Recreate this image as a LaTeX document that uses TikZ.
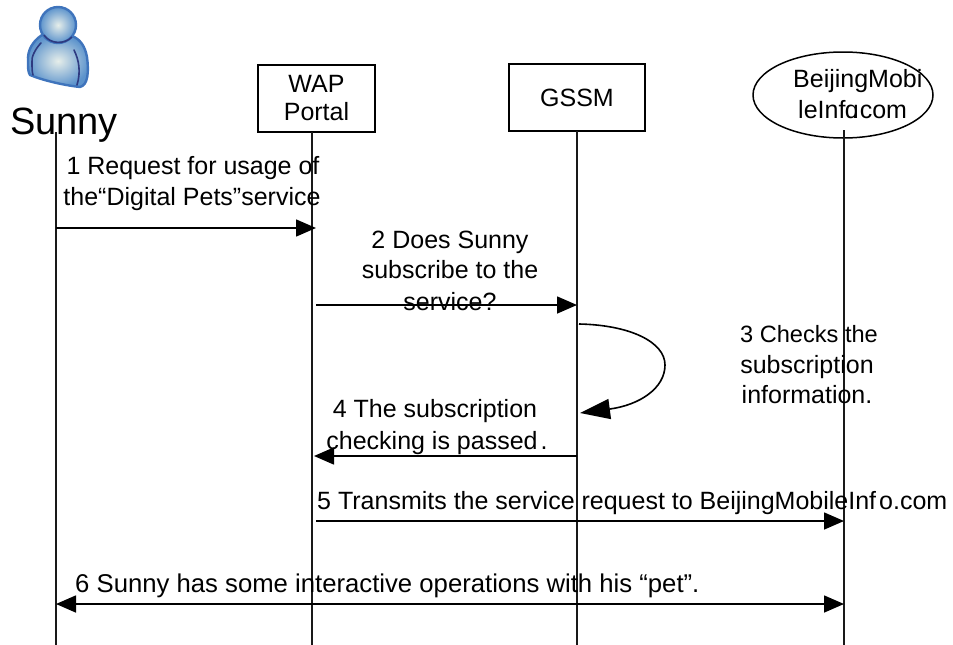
\documentclass[tikz,border=0pt]{standalone}
\usepackage{fontspec}
\setmainfont{Liberation Sans}
\usetikzlibrary{arrows.meta,shapes.geometric}
\tikzset{
  x=1pt,y=-1pt,
  life/.style={line width=1.8pt,black!90},
  msg/.style={line width=1.6pt,-{Triangle[length=20pt,width=17pt]}},
  msgboth/.style={line width=1.6pt,{Triangle[length=20pt,width=17pt]}-{Triangle[length=20pt,width=17pt]}},
  actor/.style={draw,line width=1.8pt,fill=white,minimum height=67pt,align=center,font=\fontsize{25}{28}\selectfont,inner sep=0pt},
  lbl/.style={align=center,font=\fontsize{25}{33}\selectfont,inner sep=0pt},
}
\definecolor{pedge}{HTML}{3F74BC}
\definecolor{pdark}{HTML}{2E3A80}
\definecolor{pmid}{HTML}{5C93CC}
\definecolor{plight}{HTML}{E6EEEA}
\begin{document}
\begin{tikzpicture}
\useasboundingbox (0,0) rectangle (953,645);
% lifeline ends
\coordinate (s0) at (56,132);  \coordinate (s1) at (56,645);
\coordinate (w1) at (312,645);
\coordinate (g1) at (577,645);
\coordinate (b0) at (844,130); \coordinate (b1) at (844,645);
% person
\path[draw=pedge,line width=2.4pt,inner color=plight,outer color=pmid]
  (42,35) .. controls (33,41) and (27,50) .. (28,62)
  .. controls (28,68) and (28,72) .. (30,75)
  .. controls (42,80) and (62,85) .. (80,87)
  .. controls (88,85) and (89,72) .. (87,57)
  .. controls (85,46) and (80,39) .. (72,36) -- cycle;
\draw[pdark,line width=1.6pt,line cap=round] (41,43) .. controls (35,49) and (31,58) .. (32,62) .. controls (32,68) and (32,72) .. (33,75);
\draw[pdark,line width=1.6pt,line cap=round] (74,50) .. controls (79,60) and (81,72) .. (77,85);
\path[draw=pedge,line width=2.4pt,inner color=plight,outer color=pmid] (58,25) circle (18);
\draw[pdark,line width=1.6pt] (44,35) .. controls (50,44) and (64,45) .. (72,37);
\node[font=\fontsize{38}{40}\selectfont,inner sep=0pt,anchor=base] (sunny) at (64,134) {Sunny};
% lifelines
\draw[life] (s0) -- (s1);
\node[actor,minimum width=117pt] (wap) at (316.5,98.5) {WAP\\Portal};
\node[actor,minimum width=136pt] (gssm) at (577,97.5) {GSSM};
\node[draw,ellipse,line width=1.5pt,minimum width=180pt,minimum height=86pt,inner sep=0pt] (bmi) at (843,95) {};
\draw[life] (312,132) -- (w1);
\draw[life] (577,131) -- (g1);
\draw[life] (b0) -- (b1);
\node[lbl,anchor=base west] (bt1) at (793,87) {BeijingMobi};
\node[lbl,anchor=base west] (bt2) at (798,118) {leInf{\kern-.5pt}ɑ{\kern-7pt}.{\kern1pt}com};
% anchors for messages
\coordinate (m1a) at (56,228);  \coordinate (m1b) at (316,228);
\coordinate (m2a) at (316,305); \coordinate (m2b) at (577,305);
\coordinate (m3a) at (579,324); \coordinate (m3b) at (580,413);
\coordinate (m4a) at (577,456); \coordinate (m4b) at (314,456);
\coordinate (m5a) at (316,521); \coordinate (m5b) at (844,521);
\coordinate (m6a) at (56,604);  \coordinate (m6b) at (844,604);
\draw[msg] (m1a) -- (m1b);
\draw[msg] (m2a) -- (m2b);
\draw[line width=1.6pt,-{Triangle[length=30pt,width=20pt]}] (m3a) .. controls (630,325) and (665,342) .. (665,365) .. controls (665,388) and (640,405) .. (m3b);
\draw[msg] (m4a) -- (m4b);
\draw[msg] (m5a) -- (m5b);
\draw[msgboth] (m6a) -- (m6b);
% labels
\node[lbl,anchor=base] (l1a) at (193,174) {1 Request for usage of};
\node[lbl,anchor=base] (l1b) at (192,205) {the“Digital Pets”service};
\node[lbl,anchor=base] (l2a) at (450,248) {2 Does Sunny};
\node[lbl,anchor=base] (l2b) at (450,278) {subscribe to the};
\node[lbl,anchor=base] (l2c) at (450,310) {service?};
\node[lbl,anchor=base,font=\fontsize{23.6}{33}\selectfont] (l3a) at (809,342) {3 Checks the};
\node[lbl,anchor=base] (l3b) at (807,373) {subscription};
\node[lbl,anchor=base] (l3c) at (807,403) {information.};
\node[lbl,anchor=base] (l4a) at (435,417) {4 The subscription};
\node[lbl,anchor=base] (l4b) at (437,449) {checking is passed\kern3pt.};
\node[lbl,anchor=base west] (l5) at (317,509) {5 Transmits the service request to BeijingMobileInf\kern3pt o.com};
\node[lbl,anchor=base west,font=\fontsize{25.7}{33}\selectfont] (l6) at (75,592) {6 Sunny has some interactive operations with his “pet”.};
\end{tikzpicture}
\end{document}
